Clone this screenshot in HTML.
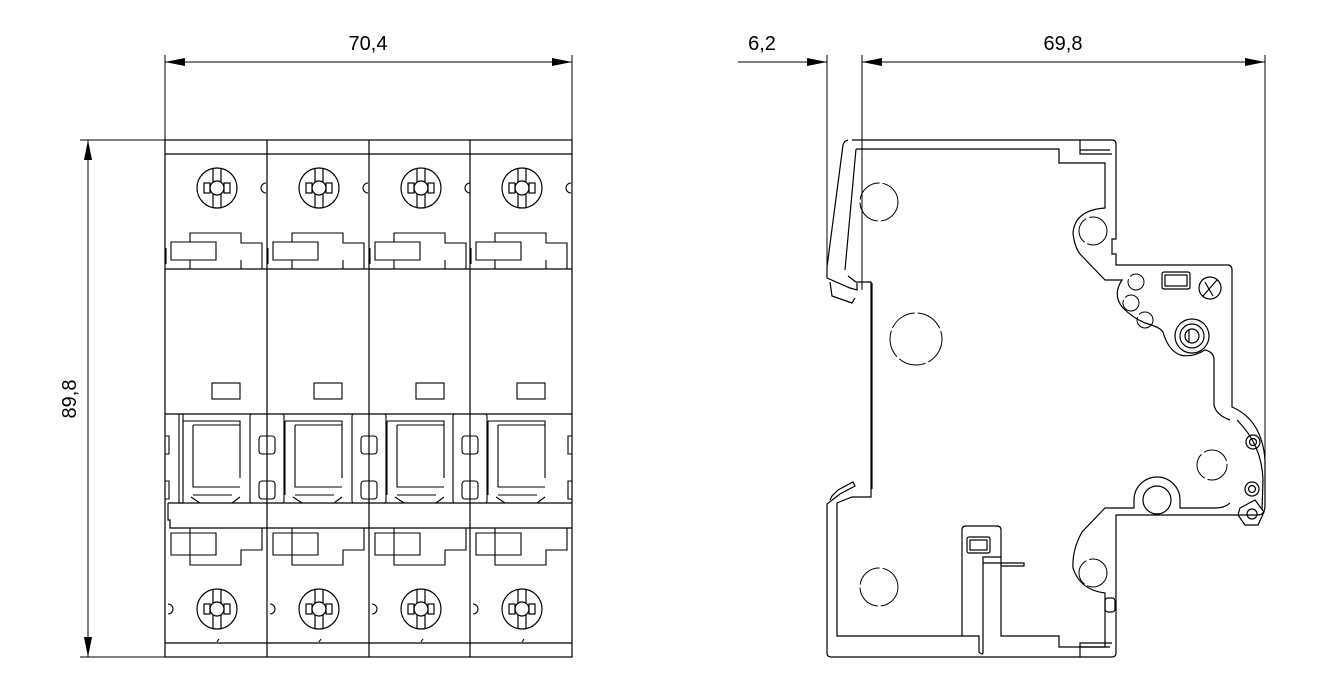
<!DOCTYPE html>
<html><head><meta charset="utf-8"><style>
html,body{margin:0;padding:0;background:#fff;}
svg{display:block;}
text{font-family:"Liberation Sans",sans-serif;font-size:20px;fill:#000;}
</style></head><body>
<svg width="1335" height="682" viewBox="0 0 1335 682" xmlns="http://www.w3.org/2000/svg">
<defs>
<marker id="a" viewBox="0 0 20 8" refX="20" refY="4" markerWidth="20" markerHeight="8" markerUnits="userSpaceOnUse" orient="auto-start-reverse"><path d="M0,0 L20,4 L0,8 z" fill="#000"/></marker>
<g id="screw" fill="none" stroke="#000" stroke-width="1.2">
<circle r="20"/><line x1="-4" y1="-19" x2="-4" y2="19"/><line x1="4" y1="-19" x2="4" y2="19"/>
<circle r="7" fill="#fff"/><rect x="-13" y="-5" width="6" height="10"/><rect x="7" y="-5" width="6" height="10"/>
</g>
<g id="pole" fill="none" stroke="#000" stroke-width="1.1">
<path d="M171,242 L216,242 L216,260 L171,260 Z"/>
<path d="M190,242 L190,233 L241,233 L241,243 L262,243 L262,269"/>
<path d="M190,260 L190,269 M241,260 L241,269 M166,248 L166,264"/>
<use href="#screw" x="217" y="188"/>
<path d="M266,183 a5,5 0 0 0 0,10" />
<rect x="212" y="383" width="28" height="16"/>
<path d="M183,421 L240,421 L240,478 M183,421 L183,495 M193,425 L240,425"/>
<path d="M193,425 L193,487 L240,487"/>
<path d="M191,497 L200,503 M232,503 L240,497 M193,495 L232,495"/>
<path d="M171,533 L216,533 L216,555 L171,555 Z"/>
<path d="M190,528 L190,565 L241,565 L241,550 L262,550 L262,528"/>
<use href="#screw" x="217" y="609"/>
<path d="M168,604 a5,5 0 0 1 0,10" />
<path d="M217,642 l2,-3"/>
</g>
</defs>

<g fill="none" stroke="#000" stroke-width="1.2">
<rect x="165" y="140" width="407" height="517"/>
<line x1="165" y1="154" x2="572" y2="154"/>
<line x1="165" y1="643" x2="572" y2="643"/>
<line x1="165" y1="269" x2="572" y2="269"/>
<line x1="267" y1="140" x2="267" y2="657"/>
<line x1="369" y1="140" x2="369" y2="657"/>
<line x1="470" y1="140" x2="470" y2="657"/>
<path d="M168,503 L572,503 M168,503 L168,520 L170,520 L170,528 L572,528"/>
<line x1="165" y1="414" x2="572" y2="414"/>
<g stroke-width="1.1">
<rect x="250" y="414" width="34" height="89" rx="2"/>
<rect x="352" y="414" width="34" height="89" rx="2"/>
<rect x="453" y="414" width="34" height="89" rx="2"/>
<rect x="259" y="436" width="16" height="18" rx="3"/>
<rect x="259" y="481" width="16" height="18" rx="3"/>
<rect x="361" y="436" width="16" height="18" rx="3"/>
<rect x="361" y="481" width="16" height="18" rx="3"/>
<rect x="462" y="436" width="16" height="18" rx="3"/>
<rect x="462" y="481" width="16" height="18" rx="3"/>
<path d="M165,436 h4 v18 h-4 M165,481 h4 v18 h-4 M572,436 h-4 v18 h4 M572,481 h-4 v18 h4"/>
<rect x="179" y="414" width="4" height="89"/>
</g>
</g>
<use href="#pole"/>
<use href="#pole" x="102"/>
<use href="#pole" x="204"/>
<use href="#pole" x="305"/>

<g stroke="#000" stroke-width="1" fill="none">
<line x1="165" y1="55" x2="165" y2="140"/>
<line x1="572" y1="55" x2="572" y2="140"/>
<line x1="165" y1="62" x2="572" y2="62" marker-start="url(#a)" marker-end="url(#a)"/>
<line x1="80" y1="140" x2="165" y2="140"/>
<line x1="80" y1="657" x2="165" y2="657"/>
<line x1="88" y1="140" x2="88" y2="657" marker-start="url(#a)" marker-end="url(#a)"/>
</g>
<text x="368" y="50" text-anchor="middle">70,4</text>
<text transform="translate(76,399) rotate(-90)" text-anchor="middle">89,8</text>

<g fill="none" stroke="#000" stroke-width="1.2">
<path d="M852,140 L1112,140 Q1116,140 1116,144 L1116,239 L1112,239 L1112,254 L1116,254 L1116,265 L1229,265 Q1232,266 1232,270 L1232,407 Q1262,420 1265,460 L1265,505 Q1265,515 1258,515 L1116,515 L1116,653 Q1116,657 1112,657 L831,657 Q827,657 827,653 L827,504 L840,494 L855,486 L853,482 L838,490 L832,496 L830,500"/>
<path d="M856,149 L1059,149 L1059,163 L1105,163 L1105,208 Q1075,210 1073,233 Q1075,250 1082,256 L1105,280 L1122,280 Q1112,295 1123,308 Q1133,318 1145,323 Q1160,327 1163,332 Q1168,350 1180,355 Q1192,358 1205,350 Q1214,352 1214,360 L1214,405 Q1216,415 1230,420"/>
<path d="M1230,503 Q1225,508 1215,508 L1180,508 L1180,500 A23,23 0 0 0 1134,500 L1134,508 L1105,508 L1082,532 Q1072,550 1073,568 Q1080,590 1105,593 L1105,647 L1059,647 L1059,636 L1001,636 L1001,557 L983,557 L983,652 Q983,656 979,652 L979,636 L837,636 L837,503 L852,497 L871,497 L871,282 L856,282 L848,276"/>
<circle cx="1157" cy="500" r="14"/>
<path d="M856,149 L845,270"/>
<path d="M848,140 Q844,141 843,145 L827,267 L827,278 L850,288 L857,290 L857,283"/>
<path d="M830,282 L832,296 L852,303 L855,298"/>
<path d="M872,283 L872,489"/>
<path d="M962,636 L962,530 Q962,526 966,526 L997,526 Q1001,526 1001,530 L1001,557"/>
<rect x="967" y="537" width="23" height="16" rx="2"/>
<rect x="970" y="540" width="17" height="10"/>
<path d="M983,563 L1024,563 L1024,566 L1001,566"/>
<rect x="1162" y="272" width="28" height="17" rx="2"/>
<rect x="1165" y="275" width="22" height="11"/>
<circle cx="1210" cy="288" r="11"/><line x1="1203" y1="296" x2="1217" y2="280"/><line x1="1205" y1="282" x2="1213" y2="296"/>
<circle cx="1192" cy="336" r="17"/><circle cx="1192" cy="336" r="12"/><circle cx="1192" cy="336" r="7"/><line x1="1189" y1="330" x2="1189" y2="343"/>
<path d="M1080,140 L1080,154 L1112,154 M1080,150 L1110,150"/>
<path d="M1080,657 L1080,643 L1112,643 M1080,647 L1110,647"/>
<rect x="1105" y="598" width="10" height="14" rx="3"/>
<path d="M1237,420 Q1262,445 1263,480 L1262,510"/>
<circle cx="1253" cy="442" r="7"/><circle cx="1253" cy="442" r="3.5"/>
<circle cx="1252" cy="489" r="7"/><circle cx="1252" cy="489" r="3.5"/>
<path d="M1240,508 L1255,500 L1264,512 L1258,525 L1245,525 L1238,515 Z"/><circle cx="1252" cy="514" r="5"/>
</g>
<g fill="none" stroke="#000" stroke-width="1" stroke-dasharray="28,3">
<circle cx="879" cy="202" r="19"/>
<circle cx="916" cy="339" r="26"/>
<circle cx="879" cy="587" r="19"/>
<circle cx="1093" cy="231" r="14"/>
<circle cx="1093" cy="573" r="14"/>
<circle cx="1212" cy="465" r="15"/>
<circle cx="1136" cy="282" r="8"/>
<circle cx="1131" cy="303" r="8"/>
<circle cx="1145" cy="320" r="8"/>
</g>

<g stroke="#000" stroke-width="1" fill="none">
<line x1="827" y1="55" x2="827" y2="270"/>
<line x1="862" y1="55" x2="862" y2="290"/>
<line x1="1265" y1="55" x2="1265" y2="460"/>
<line x1="738" y1="62" x2="827" y2="62" marker-end="url(#a)"/>
<line x1="862" y1="62" x2="1265" y2="62" marker-start="url(#a)" marker-end="url(#a)"/>
</g>
<text x="762" y="50" text-anchor="middle">6,2</text>
<text x="1063" y="50" text-anchor="middle">69,8</text>
</svg>
</body></html>
